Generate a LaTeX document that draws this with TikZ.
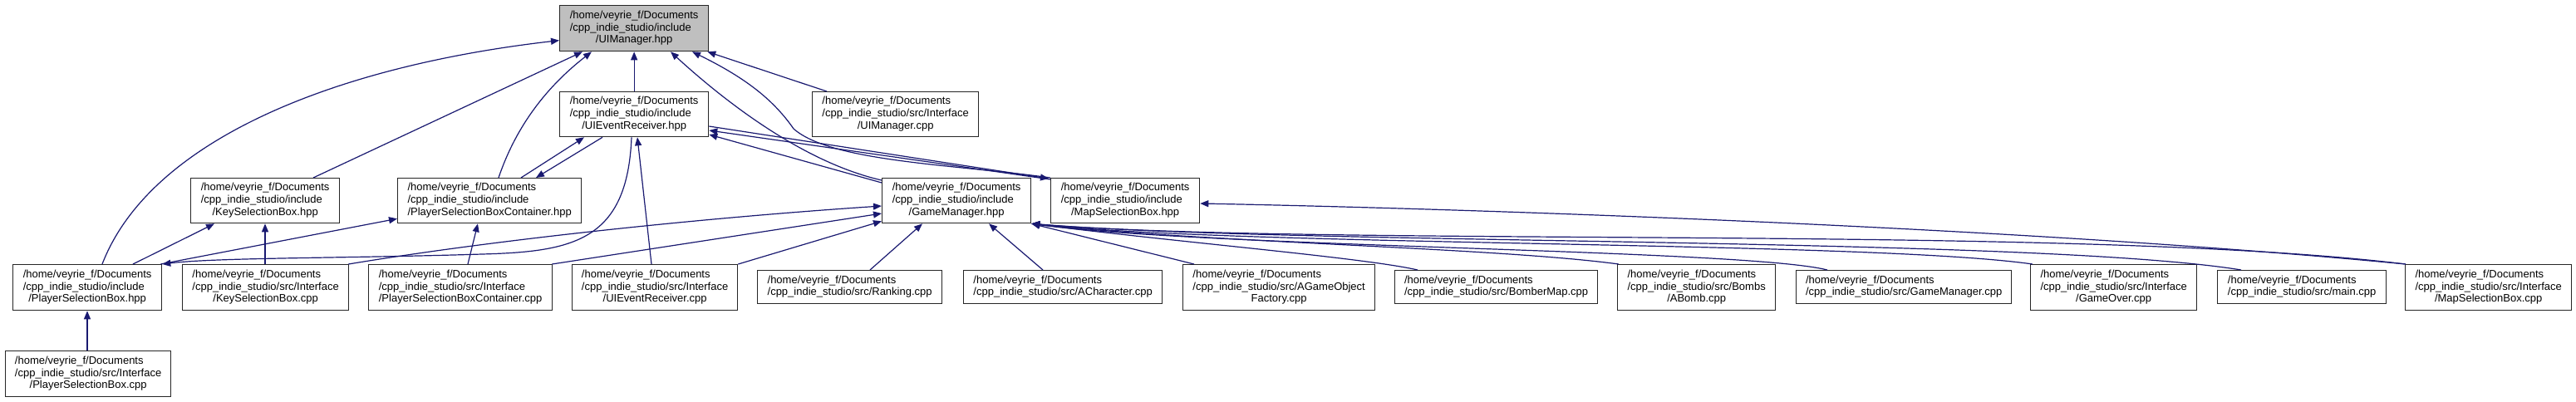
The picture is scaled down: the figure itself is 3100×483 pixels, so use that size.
\documentclass[tikz,border=0pt]{standalone}
\usepackage{fontspec}
\setmainfont{Liberation Sans}
\usetikzlibrary{arrows.meta}
\definecolor{edgeblue}{RGB}{25,25,112}
\definecolor{rootgray}{RGB}{191,191,191}
\newcommand\hm{/home/veyrie\_f/Documents}
\newcommand\lblthree[3]{\begin{tabular}{@{}l@{}}#1\\#2\\\multicolumn{1}{@{}c@{}}{#3}\end{tabular}}
\newcommand\lbltwo[2]{\begin{tabular}{@{}l@{}}#1\\#2\end{tabular}}
\begin{document}
\begin{tikzpicture}[x=1pt,y=-1pt,
  fbox/.style={draw=black!85, line width=1.3pt, fill=white, inner sep=0pt, anchor=north west,
    font=\fontsize{13}{14.7}\selectfont, align=center},
  dep/.style={draw=edgeblue, line width=1.2pt, -{Triangle[length=10pt,width=8pt]}}]
\useasboundingbox (0,0) rectangle (3100,483);
% row 1
\node[fbox, fill=rootgray, minimum width=179pt, minimum height=55pt] (U) at (673,6) {\lblthree{\hm}{/cpp\_indie\_studio/include}{/UIManager.hpp}};
% row 2
\node[fbox, minimum width=179pt, minimum height=54pt] (E) at (673,110) {\lblthree{\hm}{/cpp\_indie\_studio/include}{/UIEventReceiver.hpp}};
\node[fbox, minimum width=200pt, minimum height=54pt] (UC) at (977,110) {\lblthree{\hm}{/cpp\_indie\_studio/src/Interface}{/UIManager.cpp}};
% row 3
\node[fbox, minimum width=179pt, minimum height=54pt] (KH) at (229,214) {\lblthree{\hm}{/cpp\_indie\_studio/include}{/KeySelectionBox.hpp}};
\node[fbox, minimum width=221pt, minimum height=54pt] (PC) at (478,214) {\lblthree{\hm}{/cpp\_indie\_studio/include}{/PlayerSelectionBoxContainer.hpp}};
\node[fbox, minimum width=179pt, minimum height=54pt] (G) at (1061,214) {\lblthree{\hm}{/cpp\_indie\_studio/include}{/GameManager.hpp}};
\node[fbox, minimum width=179pt, minimum height=54pt] (M) at (1264,214) {\lblthree{\hm}{/cpp\_indie\_studio/include}{/MapSelectionBox.hpp}};
% row 4
\node[fbox, minimum width=179pt, minimum height=55pt] (P) at (15,318) {\lblthree{\hm}{/cpp\_indie\_studio/include}{/PlayerSelectionBox.hpp}};
\node[fbox, minimum width=200pt, minimum height=55pt] (KC) at (219,318) {\lblthree{\hm}{/cpp\_indie\_studio/src/Interface}{/KeySelectionBox.cpp}};
\node[fbox, minimum width=221pt, minimum height=55pt] (PCC) at (443,318) {\lblthree{\hm}{/cpp\_indie\_studio/src/Interface}{/PlayerSelectionBoxContainer.cpp}};
\node[fbox, minimum width=199pt, minimum height=55pt] (EC) at (688,318) {\lblthree{\hm}{/cpp\_indie\_studio/src/Interface}{/UIEventReceiver.cpp}};
\node[fbox, minimum width=222pt, minimum height=40pt] (R) at (911,325) {\lbltwo{\hm}{/cpp\_indie\_studio/src/Ranking.cpp}};
\node[fbox, minimum width=239pt, minimum height=40pt] (AC) at (1159,325) {\lbltwo{\hm}{/cpp\_indie\_studio/src/ACharacter.cpp}};
\node[fbox, minimum width=231pt, minimum height=55pt] (AF) at (1423,318) {\lblthree{\hm}{/cpp\_indie\_studio/src/AGameObject}{Factory.cpp}};
\node[fbox, minimum width=244pt, minimum height=40pt] (BM) at (1678,325) {\lbltwo{\hm}{/cpp\_indie\_studio/src/BomberMap.cpp}};
\node[fbox, minimum width=190pt, minimum height=55pt] (AB) at (1946,318) {\lblthree{\hm}{/cpp\_indie\_studio/src/Bombs}{/ABomb.cpp}};
\node[fbox, minimum width=259pt, minimum height=40pt] (GC) at (2161,325) {\lbltwo{\hm}{/cpp\_indie\_studio/src/GameManager.cpp}};
\node[fbox, minimum width=200pt, minimum height=55pt] (GO) at (2443,318) {\lblthree{\hm}{/cpp\_indie\_studio/src/Interface}{/GameOver.cpp}};
\node[fbox, minimum width=203pt, minimum height=40pt] (MN) at (2668,325) {\lbltwo{\hm}{/cpp\_indie\_studio/src/main.cpp}};
\node[fbox, minimum width=200pt, minimum height=55pt] (MC) at (2894,318) {\lblthree{\hm}{/cpp\_indie\_studio/src/Interface}{/MapSelectionBox.cpp}};
% row 5
\node[fbox, minimum width=199pt, minimum height=55pt] (PB) at (6,422) {\lblthree{\hm}{/cpp\_indie\_studio/src/Interface}{/PlayerSelectionBox.cpp}};

% ---- edges into UIManager.hpp
\draw[dep] ([xshift=108pt]P.north west) .. controls (180,170) and (400,80) .. ([yshift=-14.5pt]U.west);
\draw[dep] ([xshift=148pt]KH.north west) -- ([xshift=28pt]U.south west);
\draw[dep] ([xshift=122pt]PC.north west) .. controls (625,140) and (670,95) .. ([xshift=39pt]U.south west);
\draw[dep] (E.north) -- (U.south);
\draw[dep] ([xshift=18pt]UC.north west) -- ([xshift=-2pt]U.south east);
\draw[dep] ([yshift=-3pt]G.north west) .. controls (965,195) and (870,120) .. ([xshift=134pt]U.south west);
\draw[dep] (M.north west) .. controls (1150,198) and (1000,195) .. (955,155) .. controls (932,122) and (900,95) .. ([xshift=160pt]U.south west);
% ---- edges into UIEventReceiver.hpp
\draw[dep] ([xshift=149pt]PC.north west) -- ([xshift=30pt]E.south west);
\draw[dep] ([xshift=96pt]EC.north west) -- ([xshift=94pt]E.south west);
\draw[dep] ([yshift=-6pt]G.north west) -- ([yshift=-52pt]E.north east);
\draw[dep] ([yshift=-2pt]M.north west) -- ([yshift=-47pt]E.north east);
% ---- UIEventReceiver.hpp includes
\draw[dep] ([yshift=-42pt]E.north east) -- ([xshift=-2pt,yshift=-1pt]M.north west);
\draw[dep] ([xshift=52pt]E.south west) -- ([xshift=167pt]PC.north west);
\draw[dep] ([xshift=87pt]E.south west) .. controls (755,290) and (690,303) .. (580,306) .. controls (420,311) and (260,310) .. (P.north east);
% ---- into PlayerSelectionBoxContainer.hpp
\draw[dep] ([xshift=-2pt]P.north east) -- ([yshift=6pt]PC.south west);
\draw[dep] ([xshift=120pt]PCC.north west) -- ([xshift=97pt]PC.south west);
% ---- into PlayerSelectionBox.hpp
\draw[dep] ([xshift=99pt]PB.north west) -- ([xshift=90pt]P.south west);
% ---- into KeySelectionBox.hpp
\draw[dep] ([xshift=145pt]P.north west) -- ([xshift=29pt]KH.south west);
\draw[dep] ([xshift=100pt]KC.north west) -- ([xshift=90pt]KH.south west);
% ---- into GameManager.hpp
\draw[dep] ([xshift=-1pt]KC.north east) .. controls (600,288) and (850,262) .. ([yshift=-34pt]G.north west);
\draw[dep] ([xshift=-1pt]PCC.north east) -- ([yshift=-43pt]G.north west);
\draw[dep] (EC.north east) -- ([yshift=3pt]G.south west);
\draw[dep] ([xshift=136pt]R.north west) -- ([xshift=49pt]G.south west);
\draw[dep] ([xshift=96pt]AC.north west) -- ([xshift=129pt]G.south west);
\draw[dep] ([xshift=14pt]AF.north west) -- (G.south east);
\draw[dep] ([xshift=28pt]BM.north west) .. controls (1640,310) and (1420,292) .. (G.south east);
\draw[dep] ([xshift=2pt]AB.north west) .. controls (1800,298) and (1450,292) .. (G.south east);
\draw[dep] ([xshift=38pt]GC.north west) .. controls (2100,300) and (1450,298) .. (G.south east);
\draw[dep] ([xshift=3pt]GO.north west) .. controls (2250,290) and (1500,297) .. (G.south east);
\draw[dep] ([xshift=29pt]MN.north west) .. controls (2450,285) and (1550,295) .. (G.south east);
\draw[dep] ([xshift=1pt]MC.north west) .. controls (2500,270) and (1600,298) .. (G.south east);
% ---- into MapSelectionBox.hpp
\draw[dep] ([xshift=1pt]MC.north west) .. controls (2450,275) and (1800,252) .. ([yshift=-31pt]M.north east);
\end{tikzpicture}
\end{document}
